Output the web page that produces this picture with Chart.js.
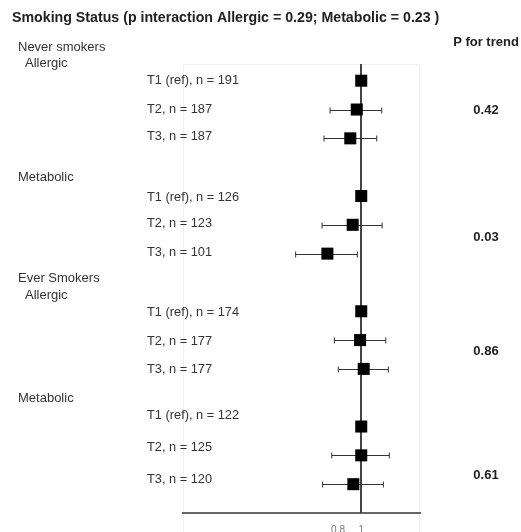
<!DOCTYPE html>
<html>
<head>
<meta charset="utf-8">
<script src="https://cdn.jsdelivr.net/npm/chart.js@4/dist/chart.umd.min.js"></script>
<style>
html,body{margin:0;padding:0;background:#fff;}
#wrap{position:relative;width:521px;height:532px;}
</style>
</head>
<body>
<div id="wrap"><canvas id="c" width="521" height="532"></canvas></div>
<script>
// ---- data ----
const titleText = "Smoking Status (p interaction Allergic = 0.29; Metabolic = 0.23 )";
const groups = ["Never smokers", "Ever Smokers"];
const outcomes = ["Allergic", "Metabolic"];
const tertiles = ["T1 (ref)", "T2", "T3"];
const sampleSizes = [191, 187, 187, 126, 123, 101, 174, 177, 177, 122, 125, 120];
const oddsRatio = [1, 0.958, 0.900, 1, 0.921, 0.722, 1, 0.989, 1.024, 1, 1.000, 0.927];
const ciLow  = [null, 0.741, 0.699, null, 0.686, 0.532, null, 0.772, 0.802, null, 0.753, 0.690];
const ciHigh = [null, 1.218, 1.161, null, 1.222, 0.963, null, 1.266, 1.298, null, 1.310, 1.237];
const pTrendHeader = "P for trend";
const pTrend = ["0.42", "0.03", "0.86", "0.61"];
const xTickValues = [0.8, 1];
const xTickLabels = ["0.8", "1"];

// rows: block b (group x outcome) then tertile t, with an empty slot between blocks
const rowSlot = [];
const rowLabels = [];
for (let b = 0; b < groups.length * outcomes.length; b++) {
  for (let t = 0; t < tertiles.length; t++) {
    const i = b * tertiles.length + t;
    rowSlot.push(b * (tertiles.length + 1) + t + 1);
    rowLabels.push(tertiles[t] + ", n = " + sampleSizes[i]);
  }
}

// ---- layout / style constants ----
const LAYOUT = {
  groupHeaderY: [47, 278],
  outcomeHeaderY: [[63, 177], [295, 398]],
  outcomeHeaderX: [25, 18],
  groupHeaderX: 18,
  rowLabelX: 147,
  rowLabelShift: [0, 0, -2, 1, -1, -1, 1, 1, 1, -10.7, -8.3, -4.3],
  pTrendX: 486,
  pTrendHeaderY: 42,
  pTrendY: [110, 237.3, 351.7, 475]
};

const annotate = {
  id: 'annotate',
  beforeDraw(chart) {
    const {ctx, chartArea: a} = chart;
    ctx.save();
    ctx.strokeStyle = '#f0f0f0';
    ctx.lineWidth = 1;
    ctx.beginPath();
    ctx.moveTo(a.left + 0.5, chart.height);
    ctx.lineTo(a.left + 0.5, a.top + 0.5);
    ctx.lineTo(a.right - 0.5, a.top + 0.5);
    ctx.lineTo(a.right - 0.5, chart.height);
    ctx.stroke();
    ctx.restore();
  },
  beforeDatasetsDraw(chart) {
    const {ctx, chartArea: a, scales: {x, y}} = chart;
    ctx.save();
    // reference line at 1
    const x1 = Math.round(x.getPixelForValue(1));
    ctx.strokeStyle = '#444';
    ctx.lineWidth = 2;
    ctx.beginPath();
    ctx.moveTo(x1, a.top);
    ctx.lineTo(x1, a.bottom);
    ctx.stroke();
    // error bars
    ctx.strokeStyle = '#333';
    ctx.lineWidth = 1;
    for (let i = 0; i < oddsRatio.length; i++) {
      if (ciLow[i] == null) continue;
      const py = Math.round(y.getPixelForValue(rowSlot[i])) + 0.5;
      const xl = x.getPixelForValue(ciLow[i]);
      const xh = x.getPixelForValue(ciHigh[i]);
      ctx.beginPath();
      ctx.moveTo(xl, py); ctx.lineTo(xh, py);
      ctx.moveTo(xl, py - 3); ctx.lineTo(xl, py + 3);
      ctx.moveTo(xh, py - 3); ctx.lineTo(xh, py + 3);
      ctx.stroke();
    }
    ctx.restore();
  },
  afterDraw(chart) {
    const {ctx, scales: {y}} = chart;
    ctx.save();
    ctx.textBaseline = 'middle';
    ctx.fillStyle = '#333';
    ctx.textAlign = 'left';
    ctx.font = '13px "Liberation Sans", Arial, sans-serif';
    groups.forEach((g, gi) => {
      ctx.fillText(g, LAYOUT.groupHeaderX, LAYOUT.groupHeaderY[gi]);
      outcomes.forEach((o, oi) => {
        ctx.fillText(o, LAYOUT.outcomeHeaderX[oi], LAYOUT.outcomeHeaderY[gi][oi]);
      });
    });
    ctx.font = '12.8px "Liberation Sans", Arial, sans-serif';
    rowLabels.forEach((lab, i) => {
      ctx.fillText(lab, LAYOUT.rowLabelX, y.getPixelForValue(rowSlot[i]) + LAYOUT.rowLabelShift[i]);
    });
    ctx.textAlign = 'center';
    ctx.fillStyle = '#222';
    ctx.font = 'bold 13px "Liberation Sans", Arial, sans-serif';
    ctx.fillText(pTrendHeader, LAYOUT.pTrendX, LAYOUT.pTrendHeaderY);
    pTrend.forEach((p, i) => ctx.fillText(p, LAYOUT.pTrendX, LAYOUT.pTrendY[i]));
    ctx.restore();
  }
};

const hiddenAxis = (pos, width) => ({
  type: 'linear',
  position: pos,
  min: 0.42,
  max: 16,
  reverse: true,
  afterFit: s => { s.width = width; },
  grid: {display: false},
  border: {display: false},
  ticks: {display: false}
});

new Chart(document.getElementById('c'), {
  type: 'scatter',
  data: {
    datasets: [{
      data: oddsRatio.map((v, i) => ({x: v, y: rowSlot[i]})),
      yAxisID: 'y',
      pointStyle: 'rect',
      pointRadius: 8.5,
      pointHoverRadius: 8.5,
      backgroundColor: '#000',
      borderColor: '#000',
      borderWidth: 0
    }]
  },
  options: {
    responsive: false,
    animation: false,
    events: [],
    layout: {padding: {left: 12, right: 0, top: 0, bottom: 0}},
    plugins: {
      legend: {display: false},
      tooltip: {enabled: false},
      title: {
        display: true,
        text: titleText,
        align: 'start',
        color: '#222',
        font: {family: '"Liberation Sans", Arial, sans-serif', size: 14.2, weight: 'bold'},
        padding: {top: 9.8, bottom: 37.16}
      }
    },
    scales: {
      x: {
        type: 'logarithmic',
        min: 0.18,
        max: 1.76,
        afterBuildTicks: s => { s.ticks = xTickValues.map(v => ({value: v})); },
        afterFit: s => { s.height = 19; },
        grid: {display: false, drawTicks: false},
        border: {display: true, color: '#666', width: 2},
        ticks: {
          autoSkip: false,
          maxRotation: 0,
          padding: 11,
          color: '#777',
          font: {family: '"Liberation Sans", Arial, sans-serif', size: 10},
          callback: (v) => xTickLabels[xTickValues.indexOf(v)] ?? ''
        }
      },
      y: hiddenAxis('left', 171),
      y2: hiddenAxis('right', 101)
    }
  },
  plugins: [annotate]
});
</script>
</body>
</html>
